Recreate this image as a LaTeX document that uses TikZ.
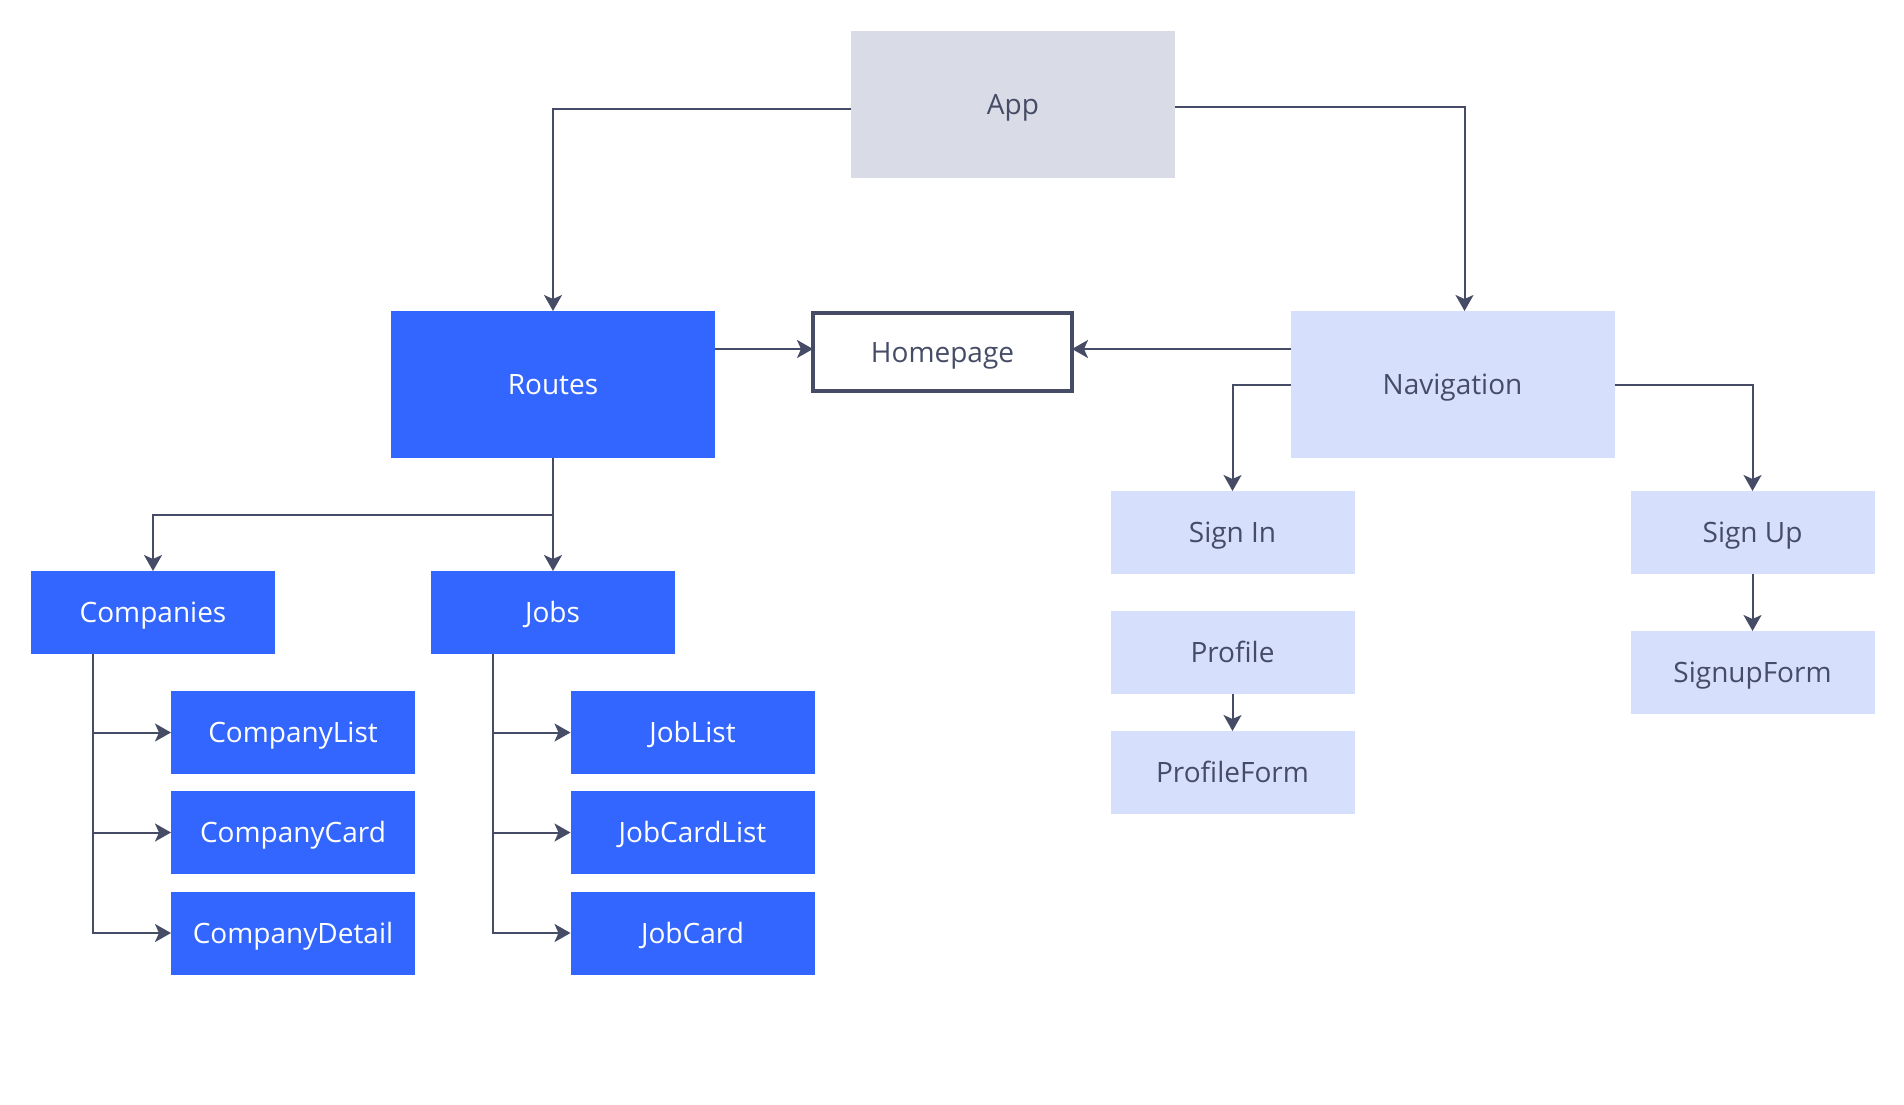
\documentclass[tikz,border=0pt]{standalone}
\usepackage{fontspec}
\setmainfont{Open Sans}
\usetikzlibrary{arrows.meta}
\definecolor{appfill}{HTML}{D9DBE7}
\definecolor{bluefill}{HTML}{3366FF}
\definecolor{lightfill}{HTML}{D6E0FC}
\definecolor{ink}{HTML}{464C66}
\begin{document}
\begin{tikzpicture}[x=0.5pt,y=-0.5pt,
  base/.style={inner sep=0pt, outer sep=0pt, text height=10pt, text depth=0pt, font=\fontsize{14pt}{16pt}\selectfont},
  bigbox/.style={base, minimum width=162pt, minimum height=73.5pt},
  smallbox/.style={base, minimum width=122pt, minimum height=41.5pt},
  grayfill/.style={fill=appfill, text=ink},
  bluebox/.style={fill=bluefill, text=white},
  lightbox/.style={fill=lightfill, text=ink},
  homebox/.style={base, draw=ink, line width=2pt, fill=white, text=ink, minimum width=129.5pt, minimum height=39pt},
  conn/.style={draw=ink, line width=1pt, -{Stealth[length=8pt, width=9pt, inset=2pt]}}
]
\useasboundingbox (0,0) rectangle (1904,1104);
\fill[white] (0,0) rectangle (1904,1104);

\node[bigbox, grayfill] (app) at (1013,104) {App};
\node[bigbox, bluebox] (routes) at (553,384.5) {Routes};
\node[homebox] (home) at (942.5,352) {Homepage};
\node[bigbox, lightbox] (nav) at (1452.5,384.5) {Navigation};

\node[smallbox, lightbox] (signin) at (1232.5,532.5) {Sign In};
\node[smallbox, lightbox] (profile) at (1232.5,652.5) {Profile};
\node[smallbox, lightbox] (profileform) at (1232.5,772.5) {ProfileForm};
\node[smallbox, lightbox] (signup) at (1752.5,532.5) {Sign Up};
\node[smallbox, lightbox] (signupform) at (1752.5,672.5) {SignupForm};

\node[smallbox, bluebox] (companies) at (153,612.5) {Companies};
\node[smallbox, bluebox] (jobs) at (552.5,612.5) {Jobs};
\node[smallbox, bluebox] (clist) at (293,732.5) {CompanyList};
\node[smallbox, bluebox] (ccard) at (293,832.5) {CompanyCard};
\node[smallbox, bluebox] (cdetail) at (293,933) {CompanyDetail};
\node[smallbox, bluebox] (jlist) at (692.5,732.5) {JobList};
\node[smallbox, bluebox] (jcardlist) at (692.5,832.5) {JobCardList};
\node[smallbox, bluebox] (jcard) at (692.5,933) {JobCard};

\draw[conn] ([yshift=-2.5pt]app.west) -| (routes.north);
\draw[conn] ([yshift=-1.5pt]app.east) -| ([xshift=6pt]nav.north);
\draw[conn] ([yshift=17.75pt]routes.east) -- ([yshift=1.5pt]home.west);
\draw[conn] ([yshift=17.75pt]nav.west) -- ([yshift=1.5pt]home.east);
\draw[conn] (nav.west) -| (signin.north);
\draw[conn] (nav.east) -| (signup.north);
\draw[conn] (signup.south) -- (signupform.north);
\draw[conn] (profile.south) -- (profileform.north);
\draw[conn] (routes.south) -- (routes.south |- jobs.north);
\draw[conn] (routes.south) -- ++(0,57) -| (companies.north);
\draw[conn] ([xshift=-30pt]companies.south) |- (clist.west);
\draw[conn] ([xshift=-30pt]companies.south) |- (ccard.west);
\draw[conn] ([xshift=-30pt]companies.south) |- (cdetail.west);
\draw[conn] ([xshift=-30pt]jobs.south) |- (jlist.west);
\draw[conn] ([xshift=-30pt]jobs.south) |- (jcardlist.west);
\draw[conn] ([xshift=-30pt]jobs.south) |- (jcard.west);
\end{tikzpicture}
\end{document}
